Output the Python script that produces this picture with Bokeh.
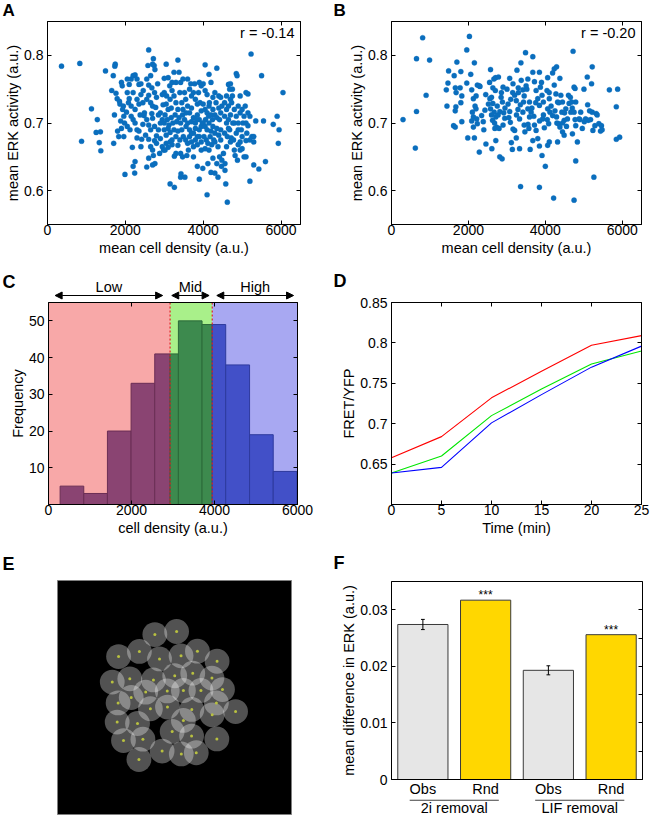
from bokeh.plotting import figure
from bokeh.models import (Range1d, FixedTicker, CustomJSTickFormatter, LinearAxis,
                          Label, Arrow, NormalHead, Spacer)
from bokeh.layouts import row, column
from bokeh.embed import file_html
from bokeh.resources import INLINE
from bokeh.core.properties import value

# ---------------- data ----------------
# Panel A: mean cell density vs mean ERK activity
a_density = [
    360, 830, 875,
    1130, 1280, 1250, 1360, 1330, 1370, 1490,
    1650, 1690, 1730, 1740, 1760, 1790, 1720, 1700, 1850, 1860, 1800, 1830, 1880, 1900, 1920, 1950, 1960, 1900, 1960, 1980, 1990, 1930,
    2050, 2100, 2150, 2200, 2250, 2300, 2350, 2400, 2050, 2100, 2030, 2080, 2150, 2200, 2300, 2350, 2400, 2450,
    2200, 2250, 2300, 2120, 2180, 2200, 2250, 2240, 2350, 2400, 2450, 2480, 2420, 2300, 2150, 2250, 2050, 2380, 2460, 2490,
    2600, 2580, 2650, 2700, 2720, 2740, 2760, 2550, 2600, 2680, 2550, 2600, 2650, 2700, 2750, 2800, 2850, 2900, 2950,
    2550, 2600, 2650, 2700, 2750, 2800, 2850, 2900, 2950, 2600, 2650, 2700, 2750, 2800, 2900, 2950,
    2550, 2600, 2700, 2760, 2720, 2880, 2980, 2520, 2680, 2780, 2830, 2970,
    3050, 3100, 3000, 3200, 3250, 3350, 3380, 3420, 3000, 3050, 3100, 3150, 3200, 3250, 3300, 3350, 3400, 3450, 3480,
    3020, 3080, 3120, 3180, 3220, 3280, 3320, 3380, 3420, 3470, 3000, 3050, 3100, 3150, 3200, 3250, 3300, 3350, 3400, 3450, 3490,
    3050, 3100, 3150, 3200, 3260, 3300, 3350, 3420, 3470, 3150, 3260, 3420, 3430, 3020, 3000, 3060, 3140, 3300, 3480, 3180,
    3600, 3650, 3700, 3750, 3800, 3850, 3900, 3950, 3550, 3600, 3650, 3700, 3750, 3800, 3850, 3900, 3950,
    3520, 3560, 3600, 3650, 3700, 3750, 3800, 3850, 3900, 3950, 3550, 3600, 3650, 3700, 3750, 3800, 3850, 3900, 3950,
    3580, 3620, 3750, 3850, 3900, 3950, 3530, 3990, 3520, 3680, 3780, 3830, 3700, 3980, 3560, 3920, 3880,
    4050, 4150, 4350, 4000, 4050, 4100, 4200, 4250, 4300, 4400, 4450,
    4000, 4050, 4100, 4150, 4200, 4250, 4300, 4350, 4400, 4450, 4480, 4000, 4050, 4100, 4150, 4200, 4250, 4300, 4350, 4400, 4450,
    4020, 4080, 4120, 4180, 4220, 4300, 4380, 4450, 4050, 4150, 4250, 4350, 4420, 4480, 4100, 4200, 4300, 4470, 4380,
    4060, 4160, 4330, 4420, 4240, 4140, 4120, 4270,
    4600, 4650, 4700, 4750, 4850, 4870, 4550, 4600, 4650, 4700, 4750, 4800, 4900, 4950, 4550, 4600, 4650, 4700, 4800, 4850, 4950,
    4550, 4620, 4680, 4720, 4780, 4850, 4900, 4950, 4600, 4700, 4800, 4900, 4950, 4560, 4560, 4580, 4620, 4820, 4880,
    4680, 4760, 4900, 4980, 4520, 4650, 4730,
    5100, 5150, 5230, 5000, 5050, 5150, 5200, 5020, 5100, 5150, 5250, 5300, 5350, 5000, 5100, 5200, 5300,
    5050, 5100, 5200, 5300, 5430, 5500, 5000, 5080, 5120,
    5550, 5600, 5800, 5900, 5950, 5930, 6050,
]
a_erk = [
    0.784, 0.788, 0.673,
    0.721, 0.705, 0.686, 0.687, 0.671, 0.659, 0.777,
    0.748, 0.770, 0.784, 0.787, 0.744, 0.736, 0.712, 0.670, 0.732, 0.728, 0.688, 0.680, 0.703, 0.760, 0.755, 0.725, 0.680, 0.692, 0.710, 0.700, 0.624, 0.720,
    0.765, 0.757, 0.765, 0.770, 0.771, 0.765, 0.757, 0.758, 0.745, 0.736, 0.716, 0.730, 0.725, 0.745, 0.735, 0.728, 0.742, 0.730,
    0.705, 0.700, 0.690, 0.690, 0.664, 0.636, 0.643, 0.626, 0.688, 0.665, 0.698, 0.711, 0.676, 0.678, 0.710, 0.720, 0.695, 0.712, 0.748, 0.715,
    0.808, 0.785, 0.770, 0.787, 0.795, 0.785, 0.779, 0.765, 0.756, 0.752, 0.735, 0.741, 0.730, 0.725, 0.745, 0.738, 0.712, 0.715, 0.742,
    0.705, 0.697, 0.690, 0.707, 0.695, 0.681, 0.690, 0.700, 0.705, 0.676, 0.665, 0.660, 0.674, 0.670, 0.677, 0.665,
    0.635, 0.648, 0.638, 0.640, 0.652, 0.655, 0.660, 0.682, 0.714, 0.723, 0.758, 0.727,
    0.787, 0.767, 0.766, 0.760, 0.775, 0.793, 0.775, 0.760, 0.745, 0.728, 0.720, 0.735, 0.748, 0.740, 0.730, 0.720, 0.745, 0.730, 0.720,
    0.712, 0.705, 0.697, 0.708, 0.700, 0.712, 0.702, 0.708, 0.700, 0.712, 0.690, 0.682, 0.692, 0.686, 0.675, 0.690, 0.680, 0.688, 0.675, 0.690, 0.680,
    0.670, 0.664, 0.672, 0.668, 0.651, 0.655, 0.667, 0.655, 0.650, 0.610, 0.605, 0.620, 0.625, 0.660, 0.700, 0.740, 0.755, 0.760, 0.765, 0.722,
    0.765, 0.750, 0.740, 0.745, 0.735, 0.728, 0.760, 0.755, 0.735, 0.725, 0.715, 0.722, 0.708, 0.700, 0.712, 0.705, 0.718,
    0.705, 0.695, 0.700, 0.690, 0.702, 0.685, 0.692, 0.680, 0.690, 0.695, 0.675, 0.670, 0.680, 0.672, 0.665, 0.675, 0.668, 0.680, 0.672,
    0.652, 0.660, 0.650, 0.636, 0.617, 0.660, 0.620, 0.633, 0.745, 0.758, 0.758, 0.705, 0.685, 0.700, 0.715, 0.730, 0.745,
    0.786, 0.772, 0.781, 0.758, 0.748, 0.742, 0.760, 0.738, 0.745, 0.740, 0.738,
    0.728, 0.720, 0.715, 0.725, 0.712, 0.720, 0.712, 0.708, 0.722, 0.715, 0.725, 0.700, 0.695, 0.690, 0.700, 0.688, 0.695, 0.685, 0.692, 0.682, 0.690,
    0.680, 0.675, 0.670, 0.680, 0.668, 0.672, 0.665, 0.675, 0.662, 0.660, 0.648, 0.640, 0.650, 0.645, 0.594, 0.627, 0.626, 0.636, 0.620,
    0.705, 0.730, 0.730, 0.705, 0.705, 0.710, 0.640, 0.675,
    0.740, 0.757, 0.758, 0.750, 0.773, 0.770, 0.730, 0.720, 0.725, 0.735, 0.740, 0.720, 0.725, 0.740, 0.710, 0.700, 0.705, 0.712, 0.700, 0.710, 0.715,
    0.685, 0.680, 0.690, 0.678, 0.675, 0.685, 0.690, 0.672, 0.665, 0.672, 0.660, 0.668, 0.660, 0.640, 0.630, 0.610, 0.583, 0.652, 0.645,
    0.750, 0.700, 0.700, 0.690, 0.655, 0.692, 0.730,
    0.745, 0.743, 0.802, 0.720, 0.710, 0.715, 0.710, 0.700, 0.700, 0.696, 0.680, 0.680, 0.703, 0.680, 0.674, 0.675, 0.672,
    0.650, 0.650, 0.614, 0.638, 0.632, 0.770, 0.662, 0.725, 0.685,
    0.703, 0.643, 0.698, 0.710, 0.690, 0.670, 0.745,
]
a_r_text = "r = -0.14"

# Panel B
b_density = [
    300, 620, 650, 650, 810, 900, 990,
    1425, 1468, 1485, 1442,
    1630, 1660, 1680, 1700, 1674, 1657, 1614, 1657, 1803, 1785, 1828, 1803, 1828, 1957, 1983, 1957, 2026,
    2060, 2155, 2086, 2129, 2172, 2103, 2197, 2129, 2215, 2086, 2129, 2232, 2155, 2283, 2232, 2283, 2343, 2386, 2429, 2455, 2300,
    2575, 2661, 2704, 2635, 2558, 2601, 2635, 2575, 2670, 2712, 2627, 2687, 2730, 2773, 2816, 2781, 2858, 2901, 2884, 2918,
    2944, 2609, 2712, 2798, 2815, 2876,
    3004, 3030, 3073, 3090, 3116, 3142, 3159, 3202, 3245, 3288, 3330, 3202, 3245, 3330, 3365, 3373, 3416, 3433, 3416, 3450,
    3468, 3356, 3262, 3073, 3159, 3296,
    3485, 3545, 3519, 3588, 3545, 3631, 3588, 3674, 3674, 3717, 3760, 3803, 3846, 3717, 3760, 3803, 3846, 3871, 3914, 3949,
    3931, 3974, 3846, 3914, 3605, 3674, 3571, 3846,
    4000, 4060, 4043, 4103, 4060, 4120, 4086, 4103, 4060, 4189, 4232, 4275, 4318, 4292, 4343, 4232, 4292, 4378, 4403, 4446,
    4429, 4489, 4318, 4446, 4215, 4189, 4378,
    4532, 4575, 4489, 4618, 4661, 4704, 4721, 4747, 4773, 4790, 4747, 4773, 4790, 4747, 4790, 4833, 4876, 4919, 4961, 4687, 4601,
    5004, 5047, 5090, 5116, 5176, 5202, 5219, 5219, 5236, 5262, 5288, 5322, 5348, 5391, 5434, 5459, 5476, 5013, 5150,
    5665, 5845, 5880, 5845, 5931,
    2450, 2520, 2600, 2680, 2750, 2850, 2950, 3050, 3150, 3250, 3350, 3450, 3550, 3650, 3750, 3850, 3950, 4050, 4150, 4250,
    4350, 4450, 4550, 4650, 2400, 2550, 2700, 2900, 3100, 3300, 3500, 3700, 3900, 4100, 4300, 4500, 4700, 4900, 2200, 5100,
]
b_erk = [
    0.705, 0.663, 0.717, 0.795, 0.826, 0.741, 0.793,
    0.749, 0.759, 0.777, 0.725,
    0.770, 0.752, 0.745, 0.790, 0.724, 0.718, 0.696, 0.694, 0.776, 0.752, 0.740, 0.730, 0.702, 0.759, 0.678, 0.808, 0.828,
    0.772, 0.789, 0.749, 0.736, 0.725, 0.716, 0.721, 0.709, 0.706, 0.703, 0.694, 0.699, 0.678, 0.657, 0.756, 0.755, 0.711, 0.702, 0.719, 0.669, 0.754,
    0.779, 0.765, 0.767, 0.752, 0.736, 0.738, 0.729, 0.721, 0.716, 0.709, 0.704, 0.692, 0.694, 0.712, 0.717, 0.768, 0.745, 0.753, 0.731, 0.715,
    0.707, 0.662, 0.674, 0.692, 0.650, 0.647,
    0.750, 0.728, 0.717, 0.701, 0.671, 0.661, 0.758, 0.741, 0.733, 0.720, 0.706, 0.689, 0.678, 0.662, 0.789, 0.763, 0.749, 0.731, 0.716, 0.697,
    0.687, 0.606, 0.778, 0.766, 0.691, 0.752,
    0.804, 0.765, 0.750, 0.731, 0.721, 0.716, 0.709, 0.798, 0.775, 0.761, 0.748, 0.736, 0.726, 0.697, 0.689, 0.677, 0.666, 0.753, 0.741, 0.731,
    0.706, 0.693, 0.605, 0.652, 0.661, 0.674, 0.692, 0.775,
    0.636, 0.767, 0.748, 0.736, 0.721, 0.716, 0.699, 0.672, 0.667, 0.774, 0.756, 0.743, 0.731, 0.709, 0.699, 0.780, 0.783, 0.766, 0.741, 0.731,
    0.716, 0.704, 0.672, 0.687, 0.589, 0.711, 0.694,
    0.721, 0.706, 0.682, 0.729, 0.716, 0.684, 0.806, 0.753, 0.751, 0.731, 0.716, 0.705, 0.696, 0.586, 0.644, 0.672, 0.706, 0.716, 0.692, 0.731, 0.741,
    0.750, 0.706, 0.768, 0.704, 0.705, 0.758, 0.783, 0.716, 0.689, 0.620, 0.696, 0.714, 0.712, 0.699, 0.688, 0.696, 0.690, 0.702, 0.718,
    0.749, 0.724, 0.750, 0.676, 0.679,
    0.742, 0.728, 0.712, 0.700, 0.725, 0.738, 0.722, 0.708, 0.745, 0.712, 0.727, 0.740, 0.698, 0.722, 0.730, 0.703, 0.712, 0.705, 0.725, 0.718,
    0.730, 0.700, 0.695, 0.738, 0.690, 0.760, 0.748, 0.697, 0.735, 0.745, 0.755, 0.710, 0.760, 0.745, 0.700, 0.715, 0.722, 0.705, 0.740, 0.727,
]
b_r_text = "r = -0.20"

# Panel C: histogram of cell density with Low / Mid / High classes
c_bin_edges = [280, 850, 1420, 1990, 2560, 3130, 3700, 4270, 4845, 5415, 5985]
c_counts = [5, 3, 20, 33, 41, 50, 49, 38, 19, 9]
c_classes = ["Low", "Mid", "High"]
c_class_bounds = [0, 2930, 3945, 6000]
c_arrow_start = [160, 2970, 4055]
c_arrow_end = [2750, 3870, 5905]
c_bg_colors = ["#F8A8A8", "#A9F08A", "#A8A8F2"]
c_bar_colors = ["#8A4472", "#3D8A4E", "#4250C8"]
c_edge_colors = ["#6A2E55", "#2C6A3A", "#2E3A9E"]

# Panel D: FRET/YFP time course per density class
d_time = [0, 5, 10, 15, 20, 25]
d_low = [0.658, 0.684, 0.732, 0.765, 0.797, 0.809]
d_mid = [0.639, 0.660, 0.710, 0.743, 0.774, 0.790]
d_high = [0.639, 0.646, 0.701, 0.736, 0.770, 0.796]

# Panel E: cell neighbourhood sketch (centres, arbitrary 0-100 units)
e_x = [41.6, 50.9, 26.1, 35.0, 43.6, 52.8, 59.8, 68.2, 23.4, 30.9,
       50.1, 57.8, 66.0, 37.7, 46.9, 53.8, 61.3, 70.5, 25.9, 39.7,
       47.0, 57.4, 67.9, 66.1, 76.1, 25.5, 34.2, 49.0, 53.8, 57.3,
       68.1, 28.2, 36.5, 44.7, 52.9, 59.3, 34.8, 41.0, 31.5]
e_y = [76.9, 78.2, 67.5, 69.7, 66.5, 67.8, 69.8, 65.5, 56.6, 58.0,
       59.3, 60.4, 58.3, 52.3, 52.8, 53.0, 53.0, 53.4, 47.7, 45.2,
       45.9, 44.9, 47.7, 42.6, 44.0, 39.5, 38.9, 35.5, 40.2, 33.5,
       32.3, 31.6, 32.2, 27.1, 25.9, 26.4, 23.5, 57.5, 50.0]
e_radius = 5.3

# Panel F: mean difference in ERK, observed vs randomised
f_bar_labels = ["Obs", "Rnd", "Obs", "Rnd"]
f_values = [0.0274, 0.0317, 0.0193, 0.0256]
f_errors = [0.0009, 0.0, 0.0008, 0.0]
f_sig = ["", "***", "", "***"]
f_groups = ["2i removal", "LIF removal"]
f_colors = ["#E6E6E6", "#FFD700", "#E6E6E6", "#FFD700"]

# ---------------- helpers ----------------
FONT = "Liberation Sans"
TICK_FS = "14px"
LAB_FS = "14.5px"
FMT = "return String(Math.round(tick*1000)/1000);"


def base_fig(w, h, xr, yr, **kw):
    p = figure(width=w, height=h, x_range=xr, y_range=yr,
               output_backend="svg", toolbar_location=None, **kw)
    p.xgrid.visible = False
    p.ygrid.visible = False
    p.background_fill_color = "white"
    p.border_fill_color = "white"
    return p


def make_fig(bl, fw, br, bt, fh, bb, xr, yr, **kw):
    p = base_fig(bl + fw + br, bt + fh + bb, Range1d(*xr), Range1d(*yr),
                 min_border_left=bl, min_border_right=br,
                 min_border_top=bt, min_border_bottom=bb, **kw)
    p.outline_line_color = "black"
    p.outline_line_width = 1
    return p


def blank_fig(w, h, xr=None, yr=None):
    p = base_fig(w, h, xr if xr is not None else Range1d(0, w),
                 yr if yr is not None else Range1d(0, h),
                 x_axis_location=None, y_axis_location=None,
                 min_border_left=0, min_border_right=0, min_border_top=0, min_border_bottom=0)
    p.outline_line_color = None
    return p


def style_axis(ax, ticks, label, vertical):
    ax.ticker = FixedTicker(ticks=ticks, minor_ticks=[])
    ax.formatter = CustomJSTickFormatter(code=FMT)
    ax.major_tick_in = 4
    ax.major_tick_out = 0
    ax.minor_tick_line_color = None
    ax.axis_line_color = "black"
    ax.major_tick_line_color = "black"
    ax.major_label_text_font = FONT
    ax.major_label_text_font_size = TICK_FS
    ax.major_label_text_color = "black"
    ax.axis_label = label
    ax.axis_label_text_font = FONT
    ax.axis_label_text_font_size = LAB_FS
    ax.axis_label_text_font_style = "normal"
    ax.axis_label_text_color = "black"
    if vertical:
        ax.major_label_standoff = 4
        ax.axis_label_standoff = 0
    else:
        ax.major_label_standoff = 0
        ax.axis_label_standoff = 2


def box_axes(p, xticks, yticks):
    for loc, ticks in (("above", xticks), ("right", yticks)):
        if ticks is None:
            continue
        ax = LinearAxis(ticker=FixedTicker(ticks=ticks, minor_ticks=[]),
                        formatter=CustomJSTickFormatter(code="return '';"),
                        major_tick_in=4, major_tick_out=0,
                        minor_tick_line_color=None, major_label_standoff=0,
                        major_label_text_font_size="0px", axis_line_color="black")
        p.add_layout(ax, loc)


def letter_fig(w, h, txt, x, y_mid, size="18px"):
    p = blank_fig(w, h)
    p.text(x=[x], y=[y_mid], text=[txt], text_font=value(FONT), text_font_size=size,
           text_font_style="bold", text_baseline="middle", text_align="left",
           text_color="black")
    return p


def letter_head(w, h, txt, x, y_mid, size="18px"):
    # wrapped in a row so that it is not frame-aligned with the plot below it
    return row(letter_fig(w, h, txt, x, y_mid, size))


HEAD1 = 20


def scatter_panel(bl, fw, br, xs, ys, rtxt):
    p = make_fig(bl, fw, br, 1, 203, 270 - HEAD1 - 1 - 203, (0, 6500), (0.55, 0.85))
    style_axis(p.xaxis[0], [0, 2000, 4000, 6000], "mean cell density (a.u.)", False)
    style_axis(p.yaxis[0], [0.6, 0.7, 0.8], "mean ERK activity (a.u.)", True)
    box_axes(p, [2000, 4000, 6000], [0.6, 0.7, 0.8])
    p.scatter(xs, ys, size=5.2, fill_color="#0A6EBD", line_color="#0A6EBD", line_width=0.3)
    p.add_layout(Label(x=fw - 6, y=203 - 11, x_units="screen", y_units="screen", text=rtxt,
                       text_font=FONT, text_font_size=LAB_FS, text_align="right",
                       text_baseline="middle", text_color="black"))
    return p


# ---------------- Row 1: A, B ----------------
pa = scatter_panel(47, 253, 20, a_density, a_erk, a_r_text)
pb = scatter_panel(71, 250, 10, b_density, b_erk, b_r_text)
head_a = letter_head(320, HEAD1, "A", 2, 10, "17px")
head_b = letter_head(331, HEAD1, "B", 13, 10, "17px")

# ---------------- Row 2: C, D ----------------
C_FH = 202
pc = make_fig(48, 249, 23, 1, C_FH, 36, (0, 6000), (0, 55))
style_axis(pc.xaxis[0], [0, 2000, 4000, 6000], "cell density (a.u.)", False)
style_axis(pc.yaxis[0], [10, 20, 30, 40, 50], "Frequency", True)
for i in range(3):
    lo, hi = c_class_bounds[i], c_class_bounds[i + 1]
    pc.quad(left=[lo], right=[hi], bottom=[0], top=[55], fill_color=c_bg_colors[i], line_color=None)
for i in range(3):
    lo, hi = c_class_bounds[i], c_class_bounds[i + 1]
    L, R, T = [], [], []
    for j, cnt in enumerate(c_counts):
        l, r = max(c_bin_edges[j], lo), min(c_bin_edges[j + 1], hi)
        if l < r:
            L.append(l); R.append(r); T.append(cnt)
    pc.quad(left=L, right=R, bottom=0, top=T, fill_color=c_bar_colors[i],
            line_color=c_edge_colors[i], line_width=1)
pc.segment(x0=c_class_bounds[1:3], x1=c_class_bounds[1:3], y0=0, y1=55,
           line_color="#E02020", line_dash="2 2", line_width=1.2)
box_axes(pc, [2000, 4000], [10, 20, 30, 40, 50])

HEAD2 = 31
arr_c = blank_fig(249, HEAD2, xr=pc.x_range, yr=Range1d(0, HEAD2))
for s, e in zip(c_arrow_start, c_arrow_end):
    arr_c.add_layout(Arrow(x_start=s, y_start=6, x_end=e, y_end=6,
                           line_color="black", line_width=1.2,
                           start=NormalHead(size=7, fill_color="black", line_color="black"),
                           end=NormalHead(size=7, fill_color="black", line_color="black")))
arr_c.text(x=[(s + e) / 2 for s, e in zip(c_arrow_start, c_arrow_end)], y=14.5, text=c_classes,
           text_font=value(FONT), text_font_size=LAB_FS, text_align="center",
           text_baseline="middle", text_color="black")
let_c = letter_fig(48, HEAD2, "C", 2, 19.3)
head_c = row(let_c, arr_c, Spacer(width=23, height=HEAD2))

HEAD_D = 21
pd = make_fig(71, 250, 10, HEAD2 + 1 - HEAD_D, 202, 36, (0, 25), (0.6, 0.85))
style_axis(pd.xaxis[0], [0, 5, 10, 15, 20, 25], "Time (min)", False)
style_axis(pd.yaxis[0], [0.65, 0.7, 0.75, 0.8, 0.85], "FRET/YFP", True)
box_axes(pd, [5, 10, 15, 20], [0.65, 0.7, 0.75, 0.8])
pd.line(d_time, d_low, line_color="#FF0000", line_width=1.1)
pd.line(d_time, d_mid, line_color="#00E600", line_width=1.1)
pd.line(d_time, d_high, line_color="#0000FF", line_width=1.1)
head_d = letter_head(331, HEAD_D, "D", 13, 10.5)

# ---------------- Row 3: E, F ----------------
HEAD3 = 40
pe = make_fig(57, 234, 29, 0, 234, 2, (0, 100), (0, 100),
              x_axis_location=None, y_axis_location=None)
pe.background_fill_color = "black"
pe.outline_line_color = "#7F7F7F"
pe.circle(x=e_x, y=e_y, radius=e_radius, fill_color="white", fill_alpha=0.32, line_color=None)
pe.scatter(e_x, e_y, size=3, fill_color="#B8C040", line_color=None)
head_e = letter_head(320, HEAD3, "E", 2, 16.5)

F_FH = 201
F_BB = 17
pf = make_fig(71, 251, 9, 1, F_FH, F_BB, (0.5, 4.5), (0, 0.035))
style_axis(pf.yaxis[0], [0, 0.01, 0.02, 0.03], "mean difference in ERK (a.u.)", True)
xs = [1, 2, 3, 4]
fx = pf.xaxis[0]
fx.ticker = FixedTicker(ticks=xs, minor_ticks=[])
fx.formatter = CustomJSTickFormatter(args=dict(labels=f_bar_labels),
                                     code="return labels[Math.round(tick) - 1];")
fx.major_tick_in = 0
fx.major_tick_out = 0
fx.minor_tick_line_color = None
fx.axis_line_color = "black"
fx.major_label_text_font = FONT
fx.major_label_text_font_size = LAB_FS
fx.major_label_text_color = "black"
fx.major_label_standoff = 1
box_axes(pf, None, [0.005, 0.01, 0.015, 0.02, 0.025, 0.03])
pf.vbar(x=xs, top=f_values, width=0.8, bottom=0, fill_color=f_colors,
        line_color="#3A3A3A", line_width=1)
ex = [x for x, e in zip(xs, f_errors) if e > 0]
elo = [v - e for v, e in zip(f_values, f_errors) if e > 0]
ehi = [v + e for v, e in zip(f_values, f_errors) if e > 0]
pf.segment(x0=ex, x1=ex, y0=elo, y1=ehi, line_color="black", line_width=1)
pf.segment(x0=[x - 0.03 for x in ex], x1=[x + 0.03 for x in ex], y0=elo, y1=elo, line_color="black")
pf.segment(x0=[x - 0.03 for x in ex], x1=[x + 0.03 for x in ex], y0=ehi, y1=ehi, line_color="black")
pf.text(x=xs, y=f_values, text=f_sig, text_align="center", text_baseline="middle",
        text_font=value(FONT), text_font_size="12px", text_color="black", y_offset=-5)
head_f = letter_head(331, HEAD3, "F", 13, 17.5)

FOOT = 17
foot = blank_fig(251, FOOT, xr=pf.x_range, yr=Range1d(FOOT, 0))
gx = [1.5 + 2 * gi for gi in range(len(f_groups))]
foot.segment(x0=[c - 0.71 for c in gx], x1=[c + 0.71 for c in gx], y0=0.7, y1=0.7,
             line_color="#404040", line_width=1.2)
foot.text(x=gx, y=8.5, text=f_groups, text_font=value(FONT), text_font_size=LAB_FS,
          text_align="center", text_baseline="middle", text_color="black")
foot_f = row(Spacer(width=71, height=FOOT), foot, Spacer(width=9, height=FOOT))

layout = column(
    row(column(head_a, pa), column(head_b, pb)),
    row(column(head_c, pc), column(head_d, pd)),
    row(column(head_e, pe), column(head_f, pf, foot_f)),
)
open("out.html", "w").write(file_html(layout, INLINE, title="figure"))
